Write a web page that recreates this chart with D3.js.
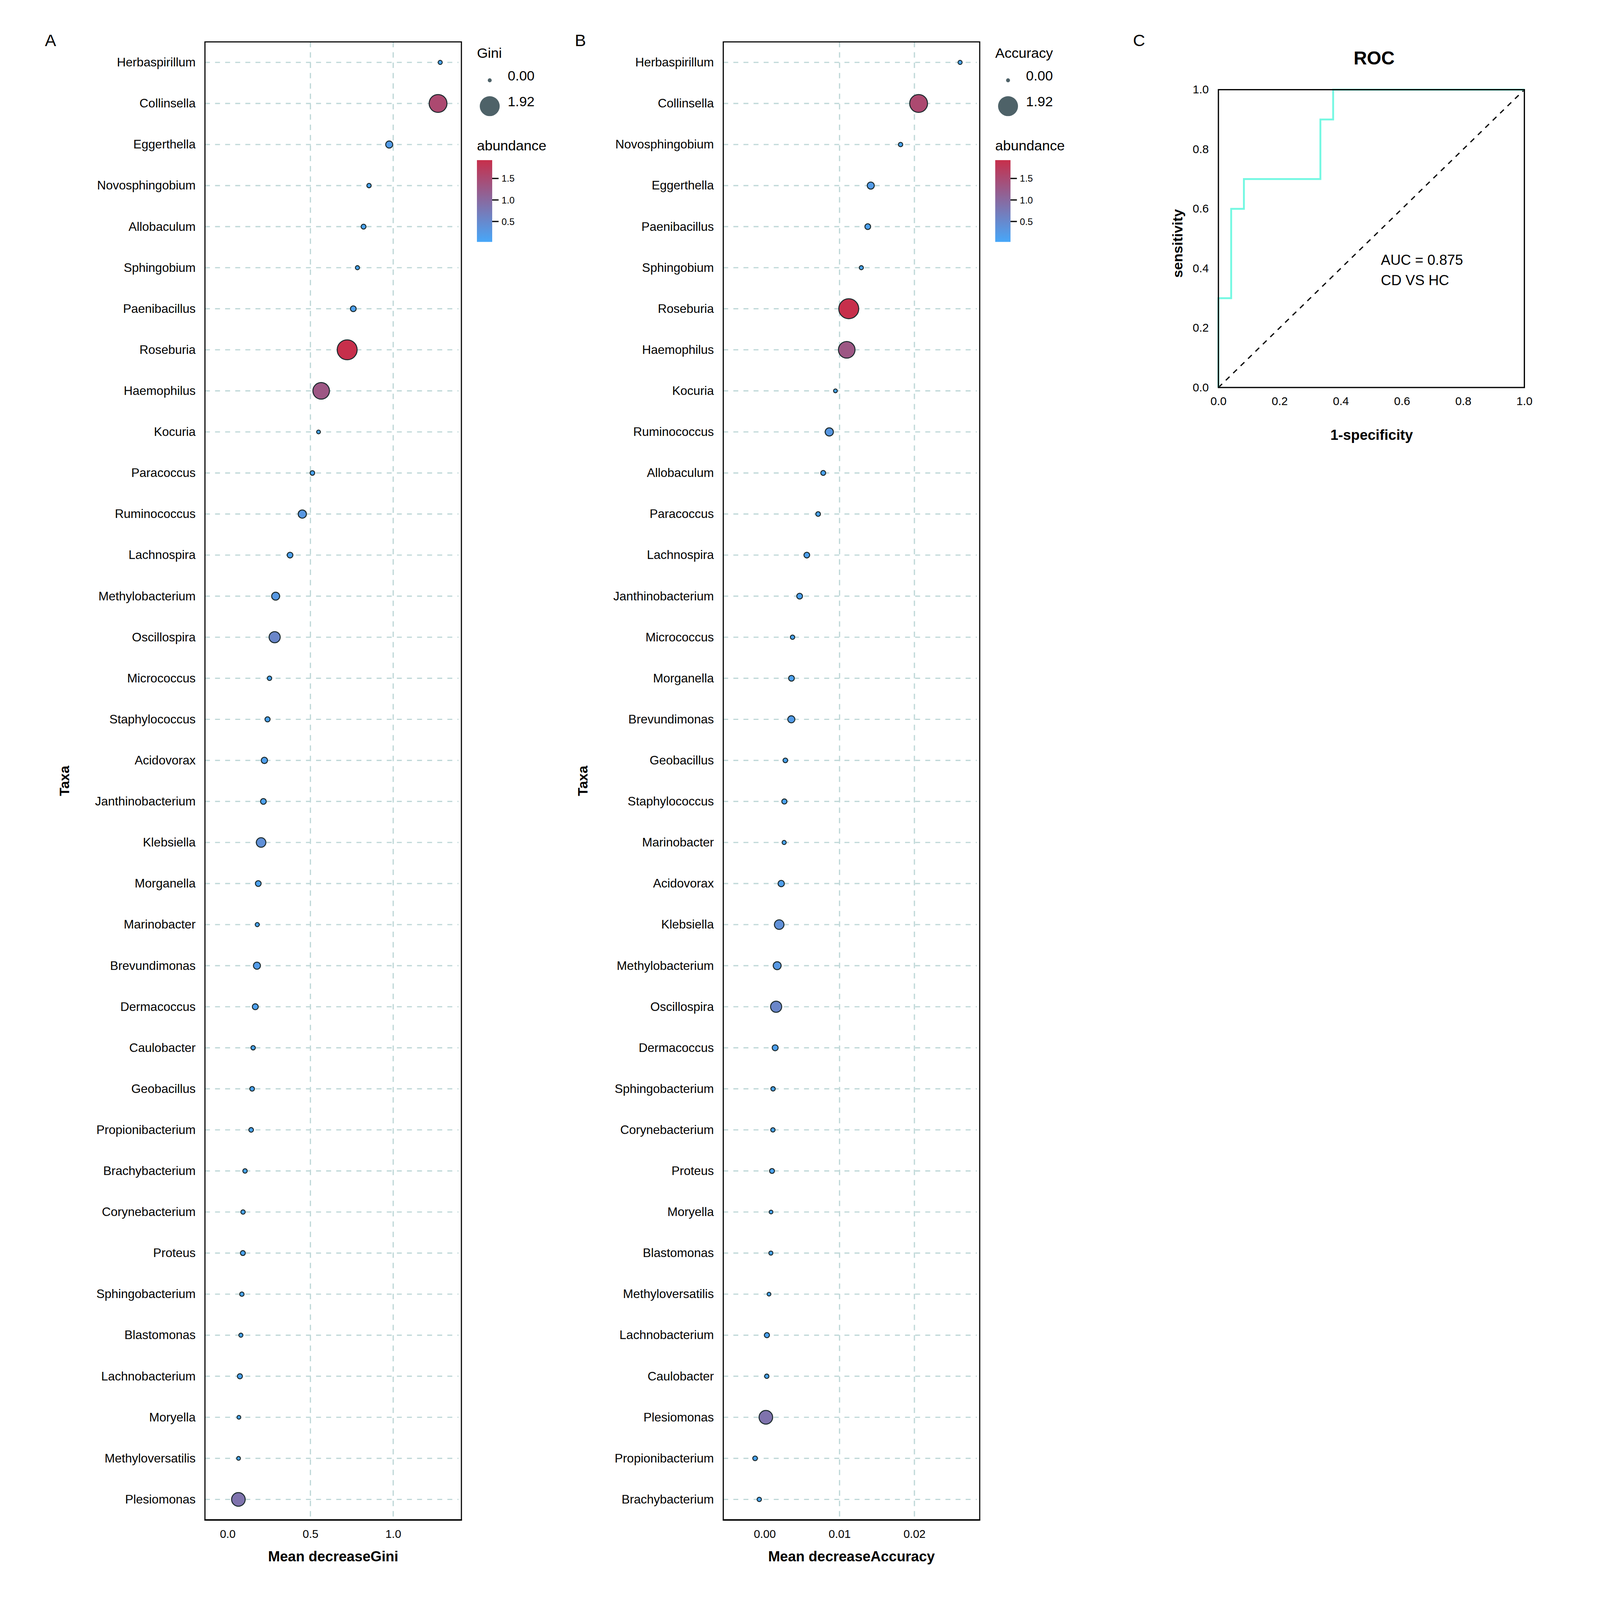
<!DOCTYPE html>
<html>
<head>
<meta charset="utf-8">
<script src="https://cdn.jsdelivr.net/npm/d3@7"></script>
<style>
  html, body { margin: 0; padding: 0; background: #fff; overflow: hidden; }
  svg { display: block; width: 100vw; height: 100vh; }
  text { font-family: "Liberation Sans", Arial, sans-serif; fill: #000; }
</style>
</head>
<body>
<script>
// ---- data ----
var giniTaxa = ["Herbaspirillum", "Collinsella", "Eggerthella", "Novosphingobium", "Allobaculum",
  "Sphingobium", "Paenibacillus", "Roseburia", "Haemophilus", "Kocuria", "Paracoccus",
  "Ruminococcus", "Lachnospira", "Methylobacterium", "Oscillospira", "Micrococcus",
  "Staphylococcus", "Acidovorax", "Janthinobacterium", "Klebsiella", "Morganella",
  "Marinobacter", "Brevundimonas", "Dermacoccus", "Caulobacter", "Geobacillus",
  "Propionibacterium", "Brachybacterium", "Corynebacterium", "Proteus", "Sphingobacterium",
  "Blastomonas", "Lachnobacterium", "Moryella", "Methyloversatilis", "Plesiomonas"];
var giniValues = [1.284, 1.271, 0.976, 0.854, 0.821, 0.784, 0.759, 0.722, 0.565, 0.549, 0.512,
  0.451, 0.377, 0.290, 0.284, 0.253, 0.241, 0.222, 0.216, 0.202, 0.185, 0.179, 0.177, 0.167,
  0.154, 0.148, 0.142, 0.105, 0.093, 0.092, 0.086, 0.080, 0.074, 0.068, 0.066, 0.065];
// abundance, same order as giniTaxa
var abundance = [0.05, 1.52, 0.20, 0.06, 0.08, 0.05, 0.12, 1.926, 1.30, 0.04, 0.07,
  0.28, 0.12, 0.26, 0.55, 0.06, 0.09, 0.15, 0.12, 0.39, 0.12,
  0.05, 0.20, 0.13, 0.06, 0.07, 0.07, 0.06, 0.06, 0.08, 0.06,
  0.05, 0.09, 0.04, 0.04, 0.85];

var accTaxa = ["Herbaspirillum", "Collinsella", "Novosphingobium", "Eggerthella", "Paenibacillus",
  "Sphingobium", "Roseburia", "Haemophilus", "Kocuria", "Ruminococcus", "Allobaculum",
  "Paracoccus", "Lachnospira", "Janthinobacterium", "Micrococcus", "Morganella",
  "Brevundimonas", "Geobacillus", "Staphylococcus", "Marinobacter", "Acidovorax",
  "Klebsiella", "Methylobacterium", "Oscillospira", "Dermacoccus", "Sphingobacterium",
  "Corynebacterium", "Proteus", "Moryella", "Blastomonas", "Methyloversatilis",
  "Lachnobacterium", "Caulobacter", "Plesiomonas", "Propionibacterium", "Brachybacterium"];
var accValues = [0.0261, 0.02056, 0.01815, 0.01417, 0.01377, 0.01291, 0.01123, 0.01096,
  0.00945, 0.00863, 0.00782, 0.00714, 0.00563, 0.00467, 0.00372, 0.00358, 0.00356,
  0.00276, 0.00263, 0.0026, 0.00221, 0.00194, 0.00167, 0.00153, 0.0014, 0.00112,
  0.0011, 0.00098, 0.00085, 0.00083, 0.00058, 0.0003, 0.00028, 0.00016, -0.00128, -0.00072];

var giniTicks = [0, 0.5, 1.0];
var giniGrid = [0.5, 1.0];
var accTicks = [0, 0.01, 0.02];
var accGrid = [0.01, 0.02];
var sizeBreaks = [0, 1.92];
var colorBreaks = [0.5, 1.0, 1.5];

var rocFpr = [0, 0, 0.0417, 0.0417, 0.0833, 0.0833, 0.3333, 0.3333, 0.375, 0.375, 1];
var rocTpr = [0, 0.3, 0.3, 0.6, 0.6, 0.7, 0.7, 0.9, 0.9, 1, 1];
var rocTicks = [0, 0.2, 0.4, 0.6, 0.8, 1.0];

// ---- shared scales ----
var abundByName = {};
giniTaxa.forEach(function(t, i) { abundByName[t] = abundance[i]; });

var color = d3.scaleLinear()
    .domain([0.025, 1.926])
    .range(["#47a7f9", "#c72f4b"]);
var size = d3.scaleSqrt()
    .domain([0, 1.92])
    .range([2, 40.5])
    .clamp(true);

var W = 6351, H = 6495;
var svg = d3.select("body").append("svg")
    .attr("viewBox", "0 0 " + W + " " + H)
    .attr("preserveAspectRatio", "xMinYMin meet");
svg.append("rect").attr("width", W).attr("height", H).attr("fill", "#fff");

var gridColor = "#bfd8d8";

// gradient for the colour bar
var grad = svg.append("defs").append("linearGradient")
    .attr("id", "abGrad")
    .attr("x1", 0).attr("y1", 1).attr("x2", 0).attr("y2", 0);
color.domain().forEach(function(v, i) {
  grad.append("stop").attr("offset", (i * 100) + "%").attr("stop-color", color(v));
});

function dotPanel(o) {
  var top = 170, bottom = 6170;
  var x = d3.scaleLinear().domain(o.domain).range([o.left, o.right]);
  var y = d3.scalePoint().domain(o.taxa).range([top, bottom]).padding(0.5);
  var g = svg.append("g");

  // grid
  g.selectAll(".hgrid").data(o.taxa).enter().append("line")
      .attr("x1", o.left).attr("x2", o.right - 12)
      .attr("y1", function(d) { return y(d); })
      .attr("y2", function(d) { return y(d); })
      .attr("stroke", gridColor).attr("stroke-width", 5)
      .attr("stroke-dasharray", "20,21");
  g.selectAll(".vgrid").data(o.grid).enter().append("line")
      .attr("x1", function(d) { return x(d); })
      .attr("x2", function(d) { return x(d); })
      .attr("y1", top).attr("y2", bottom)
      .attr("stroke", gridColor).attr("stroke-width", 5)
      .attr("stroke-dasharray", "22,20");

  // points
  g.selectAll(".pt").data(o.taxa).enter().append("circle")
      .attr("cx", function(d, i) { return x(o.values[i]); })
      .attr("cy", function(d) { return y(d); })
      .attr("r", function(d) { return size(abundByName[d]); })
      .attr("fill", function(d) { return color(abundByName[d]); })
      .attr("stroke", "#1b2a2d").attr("stroke-width", 4);

  // border
  g.append("rect")
      .attr("x", o.left).attr("y", top)
      .attr("width", o.right - o.left).attr("height", bottom - top)
      .attr("fill", "none").attr("stroke", "#000").attr("stroke-width", 4.5);
  g.append("line")
      .attr("x1", o.left - 2).attr("x2", o.right + 2)
      .attr("y1", bottom).attr("y2", bottom)
      .attr("stroke", "#000").attr("stroke-width", 6);

  // axes
  var ya = g.append("g")
      .attr("transform", "translate(" + o.left + ",0)")
      .call(d3.axisLeft(y).tickSize(0).tickPadding(38));
  ya.select(".domain").remove();
  ya.selectAll("text").style("font-size", "50px").style("font-family", "Liberation Sans, Arial, sans-serif");

  var xa = g.append("g")
      .attr("transform", "translate(0," + bottom + ")")
      .call(d3.axisBottom(x).tickValues(o.ticks).tickFormat(d3.format(o.fmt)).tickSize(0).tickPadding(40));
  xa.select(".domain").remove();
  xa.selectAll("text").style("font-size", "46px").style("font-family", "Liberation Sans, Arial, sans-serif");

  g.append("text")
      .attr("x", (o.left + o.right) / 2).attr("y", 6338)
      .attr("text-anchor", "middle")
      .style("font-size", "58px").style("font-weight", "bold")
      .text(o.xTitle);
  g.append("text")
      .attr("transform", "translate(" + (o.left - 571) + "," + ((top + bottom) / 2) + ") rotate(-90)")
      .attr("text-anchor", "middle")
      .attr("dy", "0.36em")
      .style("font-size", "56px").style("font-weight", "bold")
      .text("Taxa");

  // panel letter
  g.append("text")
      .attr("x", o.letterX).attr("y", 187)
      .attr("text-anchor", "middle")
      .style("font-size", "68px").style("font-weight", "300")
      .text(o.letter);

  // legends
  var lx = o.right + 63;
  g.append("text").attr("x", lx).attr("y", 234)
      .style("font-size", "57px").text(o.sizeTitle);
  var keyY = [326, 431], labY = [327, 432];
  sizeBreaks.forEach(function(b, i) {
    g.append("circle").attr("cx", lx + 52).attr("cy", keyY[i])
        .attr("r", Math.max(8, size(b))).attr("fill", "#4e6268");
    g.append("text").attr("x", lx + 125).attr("y", labY[i])
        .style("font-size", "56px").text(d3.format(".2f")(b));
  });

  g.append("text").attr("x", lx).attr("y", 610)
      .style("font-size", "57px").text("abundance");
  var cb = d3.scaleLinear().domain(color.domain()).range([982, 650]);
  g.append("rect").attr("x", lx).attr("y", 650)
      .attr("width", 62).attr("height", 332)
      .attr("fill", "url(#abGrad)");
  colorBreaks.forEach(function(b) {
    g.append("line").attr("x1", lx + 62).attr("x2", lx + 88)
        .attr("y1", cb(b)).attr("y2", cb(b))
        .attr("stroke", "#000").attr("stroke-width", 5);
    g.append("text").attr("x", lx + 100).attr("y", cb(b)).attr("dy", "0.36em")
        .style("font-size", "38px").text(d3.format(".1f")(b));
  });
}

dotPanel({
  letter: "A", letterX: 205, taxa: giniTaxa, values: giniValues,
  left: 832, right: 1873, domain: [-0.137, 1.412],
  ticks: giniTicks, grid: giniGrid, fmt: ".1f",
  xTitle: "Mean decreaseGini", sizeTitle: "Gini"
});
dotPanel({
  letter: "B", letterX: 2356, taxa: accTaxa, values: accValues,
  left: 2936, right: 3977, domain: [-0.00553, 0.02872],
  ticks: accTicks, grid: accGrid, fmt: ".2f",
  xTitle: "Mean decreaseAccuracy", sizeTitle: "Accuracy"
});

// ---- ROC panel ----
var rx = d3.scaleLinear().domain([0, 1]).range([4946, 6188]);
var ry = d3.scaleLinear().domain([0, 1]).range([1573, 364]);
var roc = svg.append("g");

roc.append("line")
    .attr("x1", rx(0)).attr("y1", ry(0)).attr("x2", rx(1)).attr("y2", ry(1))
    .attr("stroke", "#000").attr("stroke-width", 5).attr("stroke-dasharray", "21,21");

var rocLine = d3.line()
    .x(function(d, i) { return rx(rocFpr[i]); })
    .y(function(d, i) { return ry(rocTpr[i]); });
roc.append("path")
    .attr("d", rocLine(rocFpr))
    .attr("fill", "none").attr("stroke", "#74f8e2").attr("stroke-width", 7.5);

roc.append("rect")
    .attr("x", rx(0)).attr("y", ry(1))
    .attr("width", rx(1) - rx(0)).attr("height", ry(0) - ry(1))
    .attr("fill", "none").attr("stroke", "#000").attr("stroke-width", 5);

var rxa = roc.append("g").attr("transform", "translate(0," + ry(0) + ")")
    .call(d3.axisBottom(rx).tickValues(rocTicks).tickFormat(d3.format(".1f")).tickSize(0).tickPadding(38));
rxa.select(".domain").remove();
rxa.selectAll("text").style("font-size", "47px").style("font-family", "Liberation Sans, Arial, sans-serif");
var rya = roc.append("g").attr("transform", "translate(" + rx(0) + ",0)")
    .call(d3.axisLeft(ry).tickValues(rocTicks).tickFormat(d3.format(".1f")).tickSize(0).tickPadding(39));
rya.select(".domain").remove();
rya.selectAll("text").style("font-size", "47px").style("font-family", "Liberation Sans, Arial, sans-serif");

roc.append("text").attr("x", 5578).attr("y", 261).attr("text-anchor", "middle")
    .style("font-size", "75px").style("font-weight", "bold").text("ROC");
roc.append("text").attr("x", 5568).attr("y", 1785).attr("text-anchor", "middle")
    .style("font-size", "58px").style("font-weight", "bold").text("1-specificity");
roc.append("text")
    .attr("transform", "translate(4780,988) rotate(-90)")
    .attr("text-anchor", "middle").attr("dy", "0.36em")
    .style("font-size", "57px").style("font-weight", "bold").text("sensitivity");
roc.append("text").attr("x", rx(0.531)).attr("y", ry(0.429)).attr("dy", "0.36em")
    .style("font-size", "58px").text("AUC = 0.875");
roc.append("text").attr("x", rx(0.531)).attr("y", ry(0.361)).attr("dy", "0.36em")
    .style("font-size", "58px").text("CD VS HC");
roc.append("text").attr("x", 4624).attr("y", 187).attr("text-anchor", "middle")
    .style("font-size", "68px").style("font-weight", "300").text("C");
</script>
</body>
</html>
